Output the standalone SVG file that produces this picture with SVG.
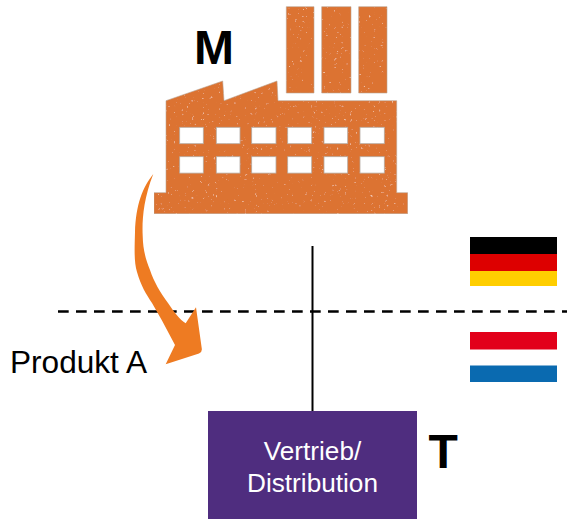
<svg xmlns="http://www.w3.org/2000/svg" width="567" height="519" viewBox="0 0 567 519">
<style>
text{font-family:"Liberation Sans",Arial,sans-serif}
.big{font-weight:700;font-size:48px;fill:#000}
.lbl{font-size:31.6px;fill:#000}
.box{font-size:26.2px;fill:#fff;text-anchor:middle}
.fac{fill:#dc7330;stroke:#b9a596;stroke-width:.6}
.win{fill:#fff;stroke:#b5aaa2;stroke-width:.8}
</style>
<defs>
<filter id="speck" x="0" y="0" width="100%" height="100%">
<feTurbulence type="fractalNoise" baseFrequency="0.38" numOctaves="2" seed="7" result="n"/>
<feColorMatrix in="n" type="matrix" values="0 0 0 0 0.96  0 0 0 0 0.72  0 0 0 0 0.55  2.4 2.4 0 0 -3.05" result="s"/>
<feComposite in="s" in2="SourceAlpha" operator="in" result="c"/>
<feMerge><feMergeNode in="SourceGraphic"/><feMergeNode in="c"/></feMerge>
</filter>
</defs>
<g id="factory">
<g filter="url(#speck)">
<path class="fac" d="M286.3 6.7H314V93H286.3ZM321.7 6.7H351V93H321.7ZM358.7 6.7H387V93H358.7Z"/>
<path class="fac" d="M166 100.7L222.7 81L224 100.7L277 81L278 100.7H396.7V192.7H407.7V213.7H154V192.7H166Z"/>
</g>
<g class="win">
<rect x="179.7" y="127.3" width="23.6" height="16.4"/><rect x="216.3" y="127.3" width="23.7" height="16.4"/><rect x="251.7" y="127.3" width="24.3" height="16.4"/><rect x="287.7" y="127.3" width="24" height="16.4"/><rect x="324" y="127.3" width="23.7" height="16.4"/><rect x="360" y="127.3" width="24.3" height="16.4"/>
<rect x="179.7" y="156.7" width="23.6" height="16.4"/><rect x="216.3" y="156.7" width="23.7" height="16.4"/><rect x="251.7" y="156.7" width="24.3" height="16.4"/><rect x="287.7" y="156.7" width="24" height="16.4"/><rect x="324" y="156.7" width="23.7" height="16.4"/><rect x="360" y="156.7" width="24.3" height="16.4"/>
</g>
</g>
<g id="label-m"><text class="big" x="194" y="64">M</text></g>
<g id="connectors">
<line x1="58" y1="311.5" x2="567" y2="311.5" stroke="#000" stroke-width="2.4" stroke-dasharray="10.7 7.3"/>
<line x1="312.5" y1="246" x2="312.5" y2="411" stroke="#000" stroke-width="2"/>
</g>
<g id="arrow">
<path fill="#ee7b22" d="M153.3 174C142 188 136 205 135 232C134.5 250 134 262 137 272C141 286 146 294 152 303L161.7 320L175 345L165.7 364.3L199 353.5Q202.5 352 201.7 348L196 307.3L185.7 323.3C180 320 174 312 168 303C160 292 154 282 150 270C145 258 143 248 142.7 236C142 222 143 200 153.3 174Z"/>
</g>
<g id="flag-de">
<rect x="470" y="237" width="87" height="17" fill="#000"/>
<rect x="470" y="254" width="87" height="17" fill="#dd0000"/>
<rect x="470" y="271" width="87" height="15" fill="#ffce00"/>
</g>
<g id="flag-nl">
<rect x="470" y="332" width="87" height="17.5" fill="#e2001a"/>
<rect x="470" y="365.5" width="87" height="16.5" fill="#0a6ab0"/>
</g>
<g id="label-produkt"><text class="lbl" x="10" y="373">Produkt A</text></g>
<g id="distribution">
<rect x="208" y="411" width="209" height="108" fill="#4f2d7f"/>
<text class="box" x="312.5" y="460">Vertrieb/</text>
<text class="box" x="312.5" y="492">Distribution</text>
</g>
<g id="label-t"><text class="big" x="428.5" y="468">T</text></g>
</svg>
